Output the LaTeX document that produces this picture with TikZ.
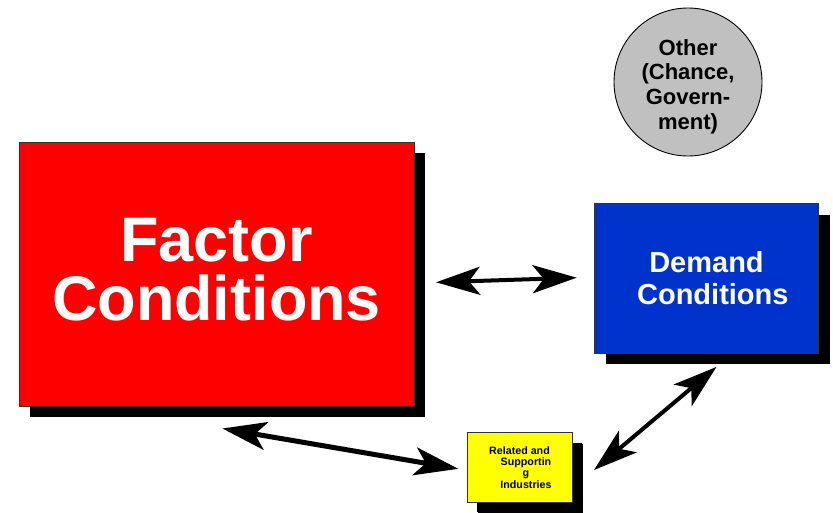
\documentclass[tikz,border=0pt]{standalone}
\usepackage{fontspec}
\setmainfont{Liberation Sans}
\usetikzlibrary{arrows.meta,shadows}
\definecolor{facred}{HTML}{FF0000}
\definecolor{demblue}{HTML}{0033CC}
\definecolor{relyellow}{HTML}{FFFF00}
\definecolor{othgray}{HTML}{C0C0C0}
\begin{document}
\begin{tikzpicture}[x=1pt,y=-1pt,
  box/.style={draw=black!80, line width=0.9pt, inner sep=0pt, align=center,
    general shadow={fill=black, draw=none, shadow xshift=11pt, shadow yshift=-11pt}},
  link/.style={line width=4pt,
    {Stealth[length=44pt,width=28pt,inset=11pt]}-{Stealth[length=44pt,width=28pt,inset=11pt]}}]
\useasboundingbox (0,0) rectangle (833,512);
\fill[white] (0,0) rectangle (833,512);

\node[box, fill=facred, text=white, minimum width=395pt, minimum height=264pt,
  font=\fontsize{63}{59}\selectfont\bfseries] (fac) at (216.5,274)
  {Factor\\Conditions\rule[-9pt]{0pt}{9pt}};

\node[box, fill=demblue, text=white, minimum width=224pt, minimum height=149.5pt,
  font=\fontsize{29}{32.5}\selectfont\bfseries] (dem) at (706.5,278.3)
  {Demand\\\hspace*{12.6pt}Conditions};

\node[box, fill=relyellow, text=black, minimum width=105pt, minimum height=69.5pt,
  general shadow={fill=black, draw=none, shadow xshift=10pt, shadow yshift=-10pt},
  font=\fontsize{10.7}{11.4}\selectfont\bfseries] (rel) at (519.5,467.3)
  {Related and\\\hspace*{13pt}Supportin\\\hspace*{13pt}g\\\hspace*{13pt}Industries};

\node[circle, draw=black, line width=0.9pt, fill=othgray, minimum size=148pt, inner sep=0pt,
  align=center, font=\fontsize{22}{24.7}\selectfont\bfseries] (oth) at (688,82)
  {\rule{0pt}{25pt}Other\\(Chance,\\Govern-\\ment)};

\coordinate (fd1) at (436,282.3);
\coordinate (fd2) at (576.7,277.7);
\coordinate (fr1) at (222.4,428.5);
\coordinate (fr2) at (458.3,468.8);
\coordinate (rd1) at (594,470);
\coordinate (rd2) at (716.5,366.9);

\draw[link] (fd1) -- (fd2);
\draw[link, line width=5pt] (fr1) -- (fr2);
\draw[link] (rd1) -- (rd2);
\end{tikzpicture}
\end{document}
